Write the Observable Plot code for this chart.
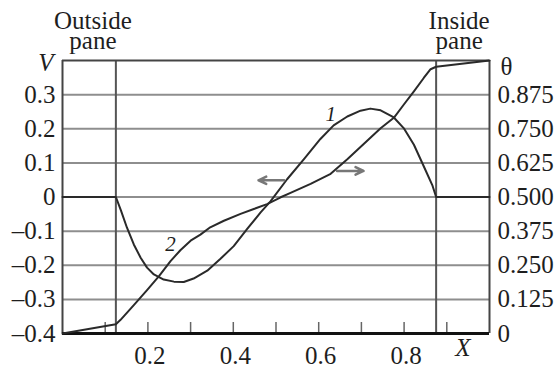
<!DOCTYPE html>
<html>
<head>
<meta charset="utf-8">
<script src="https://cdn.jsdelivr.net/npm/d3@7"></script>
<script src="https://cdn.jsdelivr.net/npm/@observablehq/plot@0.6"></script>
<style>
  html, body { margin: 0; padding: 0; background: #fff; }
  #chart svg { display: block; }
  #chart svg text { font-family: "Liberation Serif", "DejaVu Serif", serif; }
</style>
</head>
<body>
<div id="chart"></div>
<script>
// Curve 1: V (left axis) vs X
const curve1X = [0, 0.125, 0.137, 0.151, 0.167, 0.183, 0.198, 0.214, 0.237, 0.261, 0.284, 0.307, 0.339, 0.37, 0.401, 0.433, 0.464, 0.487, 0.526, 0.565, 0.604, 0.635, 0.667, 0.698, 0.721, 0.745, 0.776, 0.799, 0.823, 0.846, 0.866, 0.875, 1];
const curve1V = [0, 0, -0.04, -0.09, -0.139, -0.178, -0.207, -0.227, -0.242, -0.248, -0.249, -0.239, -0.216, -0.181, -0.144, -0.093, -0.045, -0.013, 0.052, 0.11, 0.17, 0.21, 0.236, 0.253, 0.259, 0.254, 0.233, 0.202, 0.153, 0.09, 0.035, 0, 0];

// Curve 2: theta (right axis) vs X
const curve2X = [0, 0.125, 0.136, 0.167, 0.198, 0.226, 0.253, 0.276, 0.3, 0.323, 0.346, 0.378, 0.417, 0.448, 0.479, 0.511, 0.534, 0.581, 0.628, 0.667, 0.706, 0.745, 0.776, 0.799, 0.823, 0.846, 0.862, 0.875, 1];
const curve2T = [0, 0.034, 0.05, 0.104, 0.159, 0.21, 0.265, 0.305, 0.34, 0.362, 0.389, 0.413, 0.438, 0.456, 0.474, 0.499, 0.515, 0.548, 0.585, 0.638, 0.695, 0.752, 0.79, 0.838, 0.887, 0.936, 0.968, 0.977, 1];

// Axes
const vTicks = [-0.4, -0.3, -0.2, -0.1, 0, 0.1, 0.2, 0.3];
const vLabels = ["–0.4", "–0.3", "–0.2", "–0.1", "0", "0.1", "0.2", "0.3"];
const gridV = [-0.3, -0.2, -0.1, 0, 0.1, 0.2, 0.3];
const thetaTicks = [0, 0.125, 0.25, 0.375, 0.5, 0.625, 0.75, 0.875];
const thetaLabels = ["0", "0.125", "0.250", "0.375", "0.500", "0.625", "0.750", "0.875"];
const xTicks = [0.1, 0.2, 0.3, 0.4, 0.5, 0.6, 0.7, 0.8, 0.9];
const xLabelTicks = [0.2, 0.4, 0.6, 0.8];
const xLabels = ["0.2", "0.4", "0.6", "0.8"];
const panes = [0.125, 0.875];

// Annotations
const paneLabels = ["Outside\npane", "Inside\npane"];
const paneSide = [-1, 1];
const curveLabels = [
  {label: "1", x: 0.628, v: 0.241},
  {label: "2", x: 0.253, v: -0.138}
];
const arrows = [
  {x1: 0.519, x2: 0.459, v: 0.049},
  {x1: 0.643, x2: 0.705, v: 0.0765}
];

const c1 = curve1X.map((x, i) => ({x, v: curve1V[i]}));
const c2 = curve2X.map((x, i) => ({x, t: curve2T[i]}));
const thetaToV = t => t * 0.8 - 0.4;
const paneData = panes.map((x, i) => ({x, label: paneLabels[i], side: paneSide[i]}));

const FS = 25;
const FF = "Liberation Serif";
const ink = "#1e1e1e";

const paneText = paneData.map(d =>
  Plot.text([d], {x: "x", text: "label", frameAnchor: "top", lineAnchor: "bottom", lineHeight: 0.8, dx: 23 * d.side, dy: -12, fontSize: FS, fontFamily: FF, fill: ink})
);

const chart = Plot.plot({
  width: 558,
  height: 371,
  marginLeft: 62,
  marginRight: 69,
  marginTop: 60,
  marginBottom: 38,
  x: {domain: [0, 1], axis: null},
  y: {domain: [-0.4, 0.4], axis: null},
  style: "font-family: 'Liberation Serif', serif; background: #fff; overflow: visible;",
  marks: [
    Plot.ruleY(gridV, {stroke: "#8e8e8e", strokeWidth: 2}),
    Plot.ruleX(panes, {stroke: "#555", strokeWidth: 2}),
    Plot.ruleX([0, 1], {stroke: "#444", strokeWidth: 2}),
    Plot.ruleY([0.4], {stroke: "#444", strokeWidth: 2}),
    Plot.tickX(xTicks, {x: d => d, stroke: "#666", strokeWidth: 1.5, insetTop: 262}),
    Plot.ruleY([-0.4], {stroke: "#111", strokeWidth: 3}),
    Plot.line(c1, {x: "x", y: "v", stroke: "#2a2a2a", strokeWidth: 2}),
    Plot.line(c2, {x: "x", y: d => thetaToV(d.t), stroke: "#2a2a2a", strokeWidth: 2}),
    Plot.arrow(arrows, {x1: "x1", x2: "x2", y1: "v", y2: "v", stroke: "#777", strokeWidth: 2.5, headLength: 9, headAngle: 50}),
    // left tick labels
    Plot.text(vTicks, {x: 0, y: d => d, text: (d, i) => vLabels[i], textAnchor: "end", dx: -7, fontSize: FS, fontFamily: FF, fill: ink}),
    // right tick labels
    Plot.text(thetaTicks, {x: 1, y: d => thetaToV(d), text: (d, i) => thetaLabels[i], textAnchor: "start", dx: 8, fontSize: FS, fontFamily: FF, fill: ink}),
    // bottom tick labels
    Plot.text(xLabelTicks, {x: d => d, y: -0.4, text: (d, i) => xLabels[i], dx: 2, dy: 22, fontSize: FS, fontFamily: FF, fill: ink}),
    // axis titles
    Plot.text(["V"], {x: 0, y: 0.4, textAnchor: "end", dx: -9, dy: 2, fontSize: FS, fontFamily: FF, fontStyle: "italic", fill: ink}),
    Plot.text(["θ"], {x: 1, y: 0.4, textAnchor: "start", dx: 11, dy: 6, fontSize: FS, fontFamily: FF, fill: ink}),
    Plot.text(["X"], {frameAnchor: "bottom-right", dx: -19, dy: 22, fontSize: FS, fontFamily: FF, fontStyle: "italic", fill: ink}),
    // pane labels
    ...paneText,
    // curve labels
    Plot.text(curveLabels, {x: "x", y: "v", text: "label", fontSize: 21, fontFamily: FF, fontStyle: "italic", fill: ink})
  ]
});
document.getElementById("chart").appendChild(chart);
</script>
</body>
</html>
